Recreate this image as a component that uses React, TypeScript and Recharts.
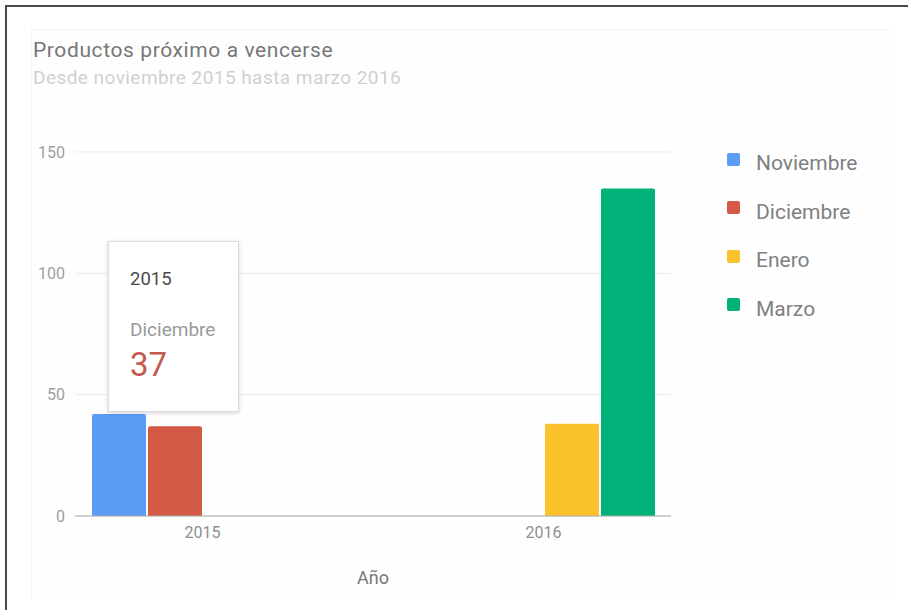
import React from 'react'
import { BarChart, Bar, XAxis, YAxis, CartesianGrid, Tooltip, Legend } from 'recharts'

const years = ['2015', '2016']
const noviembre = [42, null]
const diciembre = [37, null]
const enero = [null, 38]
const marzo = [null, 135]
const yTicks = [0, 50, 100, 150]

const series = [
  { key: 'Noviembre', color: '#5b9cf5' },
  { key: 'Diciembre', color: '#d35b45' },
  { key: 'Enero', color: '#fbc22b' },
  { key: 'Marzo', color: '#00b179' },
]

const data = years.map((year, i) => ({
  year,
  Noviembre: noviembre[i],
  Diciembre: diciembre[i],
  Enero: enero[i],
  Marzo: marzo[i],
}))

const font = 'Roboto, "Noto Sans", Arial, sans-serif'

// legend keeps the series order (recharts sorts by name otherwise)
function LegendBox() {
  return (
    <div style={{ fontFamily: font }}>
      {series.map((s) => (
        <div key={s.key} style={{ display: 'flex', alignItems: 'center', height: 48.5 }}>
          <span
            style={{
              width: 13,
              height: 13,
              borderRadius: 2,
              background: s.color,
              marginRight: 16,
              marginTop: -8,
            }}
          />
          <span style={{ fontSize: 21, color: '#808080' }}>{s.key}</span>
        </div>
      ))}
    </div>
  )
}

function TipBox({ payload, label }: any) {
  const item = (payload || []).find((p: any) => p.dataKey === 'Diciembre')
  return (
    <div
      style={{
        width: 131,
        height: 171,
        boxSizing: 'border-box',
        background: '#fff',
        border: '1px solid #dcdcdc',
        boxShadow: '0 1px 4px rgba(0,0,0,0.18)',
        padding: '26px 0 0 21px',
        fontFamily: font,
      }}
    >
      <div style={{ fontSize: 18.5, color: '#4a4a4a', lineHeight: '22px' }}>{label}</div>
      <div style={{ fontSize: 19, color: '#9a9a9a', marginTop: 29, lineHeight: '22px' }}>Diciembre</div>
      <div style={{ fontSize: 33, color: '#c45a4e', marginTop: 6, lineHeight: '36px' }}>
        {item ? item.value : 37}
      </div>
    </div>
  )
}

export default function App() {
  return (
    <div style={{ position: 'absolute', left: 0, top: 0, width: 908, height: 610, background: '#fff', overflow: 'hidden' }}>
      <div
        style={{
          position: 'absolute',
          left: 5,
          top: 5,
          right: 0,
          bottom: 0,
          borderLeft: '2px solid #4a4a4a',
          borderTop: '2px solid #4a4a4a',
        }}
      />
      <div
        style={{
          position: 'absolute',
          left: 31,
          top: 29,
          width: 858,
          bottom: 10,
          borderLeft: '1px solid #f4f4f4',
          borderTop: '1px solid #f2f2f2',
          background: '#fefefe',
        }}
      />
      <div style={{ position: 'absolute', left: 33, top: 37, fontFamily: font }}>
        <div style={{ fontSize: 21, color: '#777', lineHeight: '26px', letterSpacing: 0.6 }}>
          Productos próximo a vencerse
        </div>
        <div style={{ fontSize: 19, color: '#d0d0d0', lineHeight: '26px', marginTop: 2, letterSpacing: 0.45 }}>
          Desde noviembre 2015 hasta marzo 2016
        </div>
      </div>
      <div style={{ position: 'absolute', left: 0, top: 0 }}>
        <BarChart
          width={908}
          height={610}
          data={data}
          margin={{ top: 152, right: 67, bottom: 0, left: 15 }}
          barCategoryGap={60}
          barGap={2}
        >
          <CartesianGrid vertical={false} stroke="#ebebeb" />
          <XAxis
            dataKey="year"
            padding={{ left: -43, right: -43 }}
            axisLine={{ stroke: '#aaa' }}
            tickLine={false}
            tick={{ fontSize: 16, fill: '#8e8e8e', fontFamily: font }}
            tickMargin={5}
            height={94}
            label={{ value: 'Año', position: 'insideTop', offset: 55, fontSize: 18, fill: '#777', fontFamily: font }}
          />
          <YAxis
            domain={[0, 150]}
            ticks={yTicks}
            width={60}
            axisLine={false}
            tickLine={false}
            tickMargin={4}
            tick={{ fontSize: 16, fill: '#9e9e9e', fontFamily: font }}
          />
          <Tooltip
            active
            defaultIndex={0}
            position={{ x: 108, y: 241 }}
            cursor={false}
            content={<TipBox />}
            isAnimationActive={false}
          />
          <Legend
            layout="vertical"
            verticalAlign="top"
            align="right"
            content={<LegendBox />}
            wrapperStyle={{ position: 'absolute', left: 727, top: 139, width: 170 }}
          />
          {series.map((s) => (
            <Bar key={s.key} dataKey={s.key} fill={s.color} radius={[2, 2, 0, 0]} isAnimationActive={false} />
          ))}
        </BarChart>
      </div>
    </div>
  )
}
